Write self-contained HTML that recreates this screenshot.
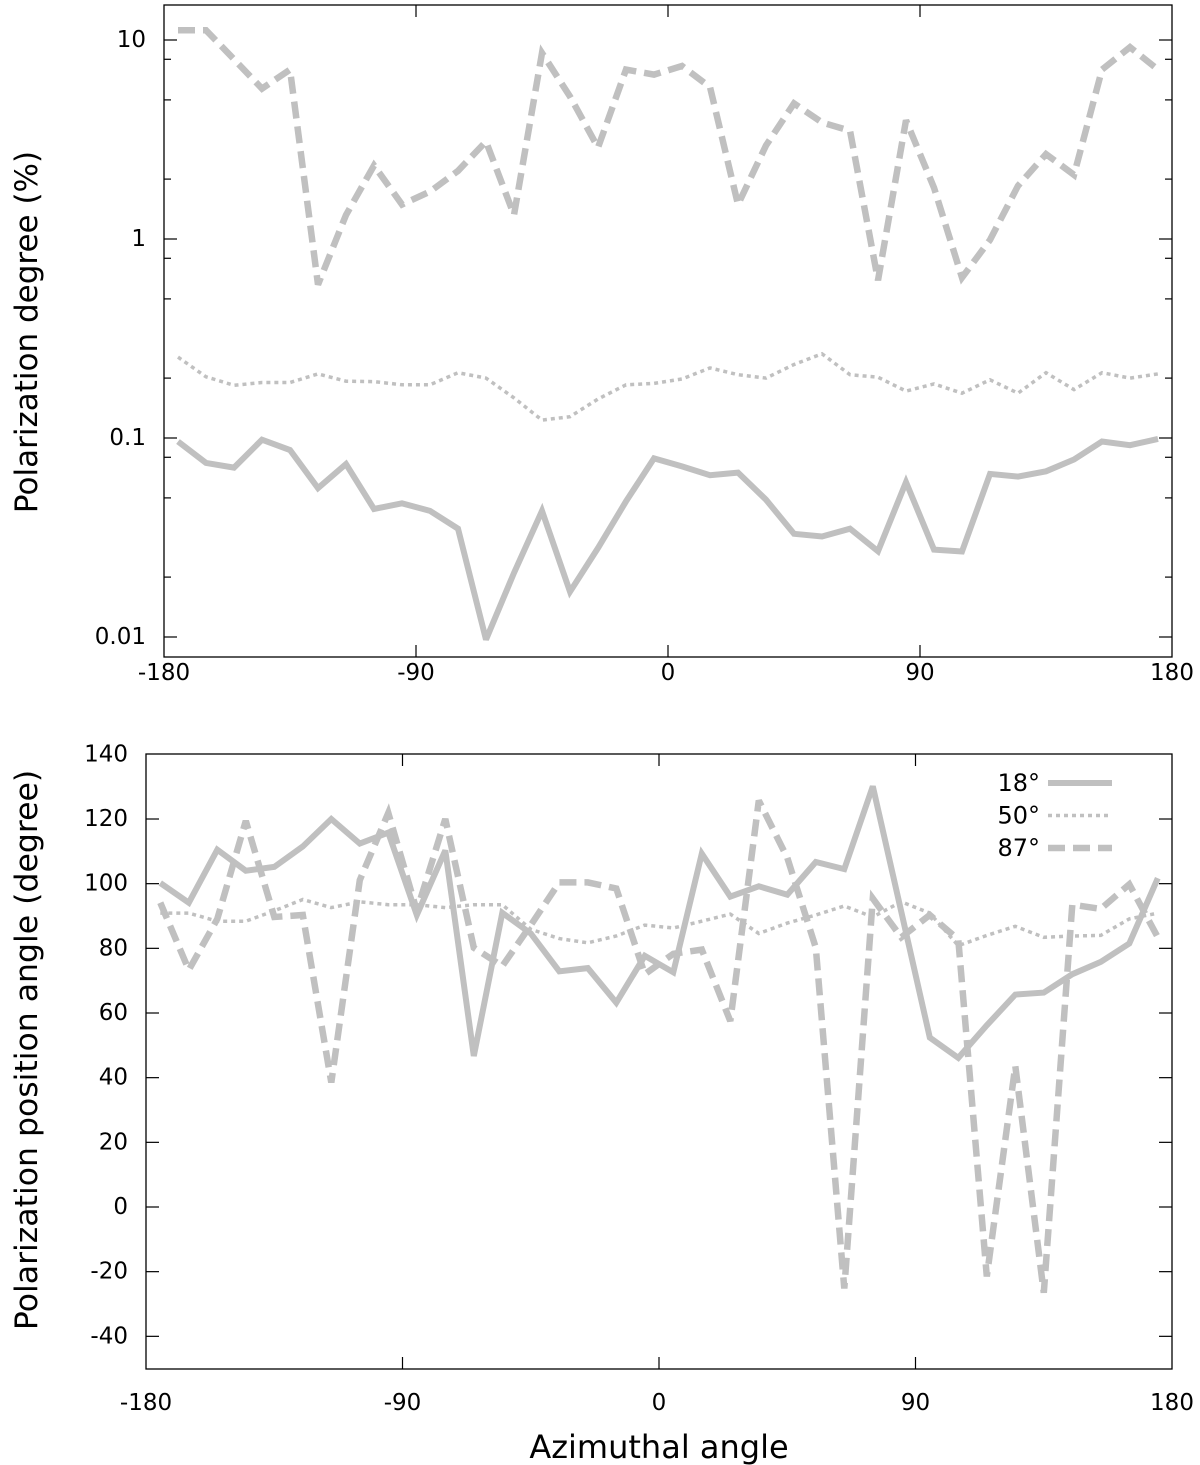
<!DOCTYPE html>
<html><head><meta charset="utf-8"><style>
html,body{margin:0;padding:0;background:#fff;}
svg{display:block;font-family:"DejaVu Sans","Liberation Sans",sans-serif;}
</style></head><body>
<svg id="chart" width="1200" height="1465" viewBox="0 0 1200 1465" xmlns="http://www.w3.org/2000/svg"></svg>
<script>
const azimuth = [-175,-165,-155,-145,-135,-125,-115,-105,-95,-85,-75,-65,-55,-45,-35,-25,-15,-5,5,15,25,35,45,55,65,75,85,95,105,115,125,135,145,155,165,175];
const degree18 = [0.096,0.075,0.071,0.098,0.087,0.056,0.074,0.044,0.047,0.043,0.035,0.0097,0.021,0.043,0.0169,0.028,0.048,0.079,0.072,0.065,0.067,0.049,0.033,0.032,0.035,0.027,0.060,0.0275,0.0269,0.066,0.064,0.068,0.078,0.096,0.092,0.099];
const degree50 = [0.255,0.203,0.184,0.190,0.190,0.210,0.193,0.192,0.185,0.185,0.213,0.200,0.159,0.123,0.128,0.157,0.185,0.188,0.198,0.225,0.208,0.200,0.234,0.265,0.208,0.202,0.172,0.187,0.168,0.196,0.168,0.213,0.175,0.213,0.200,0.210];
const degree87 = [11.2,11.2,8.0,5.7,7.1,0.59,1.32,2.34,1.49,1.73,2.20,3.09,1.32,8.6,5.2,2.88,7.1,6.7,7.4,5.8,1.49,2.95,4.8,3.85,3.5,0.62,3.95,1.81,0.64,0.99,1.85,2.67,2.10,7.1,9.2,7.1];
const angle18 = [100.2,94.1,110.5,104.0,105.2,111.5,120.0,112.4,115.8,90.3,110.3,46.7,91.0,84.6,72.9,73.9,63.2,77.7,72.6,109.3,96.0,99.2,96.6,106.7,104.5,130.1,91.3,52.4,46.1,56.2,65.7,66.3,72.0,75.8,81.5,101.7];
const angle50 = [90.9,90.9,88.4,88.4,91.6,95.1,92.6,94.4,93.5,93.5,92.6,93.5,93.5,85.9,83.0,81.7,83.8,87.2,86.3,88.4,90.6,84.6,87.8,90.3,93.1,89.7,94.4,90.9,80.8,84.0,86.8,83.4,83.8,84.0,89.1,90.9];
const angle87 = [94.1,73.3,89.1,119.4,89.7,90.3,38.5,101.1,121.9,91.6,120.0,80.2,74.5,87.2,100.4,100.4,98.5,72.0,78.3,79.6,57.5,125.7,108.0,80.2,-25.2,95.4,83.4,90.3,82.7,-21.5,43.6,-26.5,93.5,92.2,99.8,83.4];
const xTicks = [-180,-90,0,90,180];
const topYTicks = [0.01,0.1,1,10];
const topYLabels = ["0.01","0.1","1","10"];
const botYTicks = [-40,-20,0,20,40,60,80,100,120,140];
const seriesNames = ["18°","50°","87°"];

const NS="http://www.w3.org/2000/svg";
const svg=document.getElementById('chart');
function mk(tag,attrs,parent){const e=document.createElementNS(NS,tag);for(const k in attrs)e.setAttribute(k,attrs[k]);(parent||svg).appendChild(e);return e;}
const GREY="#c0c0c0";
const styles=[{w:6,d:""},{w:3.5,d:"4 4"},{w:6.5,d:"17 8"}];

const T={l:164,r:1172,t:5,b:657};
const tx=a=>T.l+(a+180)/360*(T.r-T.l);
const ty=v=>438-199*(Math.log10(v)+1);
const B={l:146,r:1172,t:754,b:1369};
const bx=a=>B.l+(a+180)/360*(B.r-B.l);
const by=v=>1207-v*3.2333;

function frame(P,name){
  const r=mk('rect',{x:P.l,y:P.t,width:P.r-P.l,height:P.b-P.t,fill:'none',stroke:'#000','stroke-width':1.3});
  
  
}
frame(T,'top-plot-frame');
frame(B,'bottom-plot-frame');

function tick(x1,y1,x2,y2,name){const l=mk('line',{x1,y1,x2,y2,stroke:'#000','stroke-width':1.2});
  
  }
function text(x,y,s,anchor,size,name,extra){const t=mk('text',Object.assign({x,y,'text-anchor':anchor,'font-size':size,fill:'#000','dominant-baseline':'central'},extra||{}));t.textContent=s;
  
  return t;}

xTicks.forEach(a=>{
  if(a>-180&&a<180){tick(tx(a),T.b,tx(a),T.b-12,'x-tick');tick(tx(a),T.t,tx(a),T.t+12,'x-tick');
    tick(bx(a),B.b,bx(a),B.b-12,'x-tick');tick(bx(a),B.t,bx(a),B.t+12,'x-tick');}
  text(tx(a),673,String(a),'middle',23,'top-x-tick-label');
  text(bx(a),1403,String(a),'middle',23,'bottom-x-tick-label');
});
topYTicks.forEach((v,i)=>{
  const y=ty(v);
  tick(T.l,y,T.l+13,y,'y-major-tick');tick(T.r,y,T.r-13,y,'y-major-tick');
  text(146,y,topYLabels[i],'end',23,'top-y-tick-label');
  [2,5,8].forEach(m=>{const vv=v*m;const yy=ty(vv);if(yy>T.t&&yy<T.b){tick(T.l,yy,T.l+7,yy,'y-minor-tick');tick(T.r,yy,T.r-7,yy,'y-minor-tick');}});
});
botYTicks.forEach(v=>{
  const y=by(v);
  if(v<140){tick(B.l,y,B.l+13,y,'y-tick');tick(B.r,y,B.r-13,y,'y-tick');}
  text(128,y,String(v),'end',23,'bottom-y-tick-label');
});
text(27,332,'Polarization degree (%)','middle',31,'top-y-axis-title',{transform:'rotate(-90 27 332)'});
text(27,1050,'Polarization position angle (degree)','middle',31.5,'bottom-y-axis-title',{transform:'rotate(-90 27 1050)'});
text(659,1447,'Azimuthal angle','middle',32,'x-axis-title');

function series(xf,yf,vals,st,name){
  const pts=azimuth.map((a,i)=>xf(a).toFixed(1)+','+yf(vals[i]).toFixed(1)).join(' ');
  const p=mk('polyline',{points:pts,fill:'none',stroke:GREY,'stroke-width':st.w,'stroke-dasharray':st.d,'stroke-linejoin':'miter','stroke-miterlimit':3});
  
  
}
series(tx,ty,degree18,styles[0],'degree-line-18');
series(tx,ty,degree50,styles[1],'degree-line-50');
series(tx,ty,degree87,styles[2],'degree-line-87');
series(bx,by,angle18,styles[0],'angle-line-18');
series(bx,by,angle50,styles[1],'angle-line-50');
series(bx,by,angle87,styles[2],'angle-line-87');

seriesNames.forEach((n,i)=>{
  const y=783+i*32.5;
  text(1040,y,n,'end',24,'legend-label');
  const l=mk('line',{x1:1048,y1:y,x2:1112,y2:y,stroke:GREY,'stroke-width':styles[i].w,'stroke-dasharray':styles[i].d});
  
  
});
</script>
</body></html>
